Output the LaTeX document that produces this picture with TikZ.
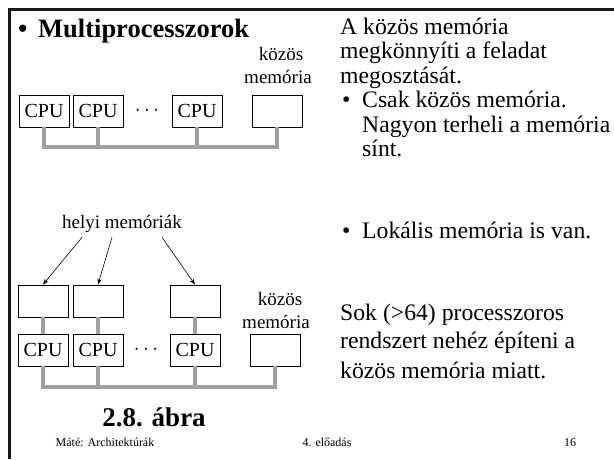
\documentclass[tikz,border=0pt]{standalone}
\usepackage{fontspec}
\setmainfont{Liberation Serif}
\usepackage{xcolor}
\usetikzlibrary{arrows.meta}
\definecolor{busgray}{HTML}{A0A0A0}
\newcommand{\fsz}[1]{\fontsize{#1}{#1}\selectfont}

\begin{document}
\begin{tikzpicture}[x=1pt,y=-1pt,
    box/.style={draw, line width=0.8pt, minimum width=50pt, minimum height=32pt,
                inner sep=0pt, font=\fsz{20}},
    bus/.style={draw=busgray, line width=4pt},
    txt/.style={anchor=base west, inner sep=0pt, font=\fsz{23.7}},
    lbl/.style={anchor=base, inner sep=0pt, font=\fsz{19}},
    foot/.style={anchor=base, inner sep=0pt, font=\fsz{12}},
    arr/.style={-{Stealth[length=6pt,width=4.5pt]}, line width=0.6pt}]
  \useasboundingbox (0,0) rectangle (614,459);
  % frame
  \draw[line width=2.5pt, black!90] (9.5,459) -- (9.5,9.5) -- (614,9.5);
  % title
  \node[txt, font=\fsz{26.5}\bfseries] (tbul) at (18,37) {•};
  \node[txt, font=\fsz{26.5}\bfseries] (title) at (38,37) {Multiprocesszorok};

  % upper diagram: common memory only
  \node[box] (tc1) at (44,111) {CPU};
  \node[box] (tc2) at (98,111) {CPU};
  \node[font=\fsz{20}] (tdots) at (147,111) {$\cdots$};
  \node[box] (tc3) at (197,111) {CPU};
  \node[box] (tm) at (277,111) {};
  \node[lbl] (tml1) at (281,60) {közös};
  \node[lbl] (tml2) at (278,83) {memória};
  \coordinate (tbus) at (0,147);
  \draw[bus] (tc1.south) |- (tbus -| tm.south) -- (tm.south);
  \foreach \n in {tc2,tc3}
    \draw[bus] (\n.south) -- (\n.south |- tbus);

  % lower diagram: local memories too
  \node[lbl] (hm) at (122,228) {helyi memóriák};
  \node[box] (lm1) at (43,301) {};
  \node[box] (lm2) at (98,301) {};
  \node[box] (lm3) at (195,301) {};
  \node[box] (bc1) at (43,350) {CPU};
  \node[box] (bc2) at (98,350) {CPU};
  \node[font=\fsz{20}] (bdots) at (146,350) {$\cdots$};
  \node[box] (bc3) at (195,350) {CPU};
  \node[box] (bm) at (275,350) {};
  \node[lbl] (bml1) at (280,305) {közös};
  \node[lbl] (bml2) at (276,328) {memória};
  \coordinate (bbus) at (0,387);
  \draw[bus] (bc1.south) |- (bbus -| bm.south) -- (bm.south);
  \foreach \n in {bc2,bc3}
    \draw[bus] (\n.south) -- (\n.south |- bbus);
  \foreach \i in {1,2,3}
    \draw[bus] (lm\i.south) -- (bc\i.north);
  \draw[arr] (hm.south) ++(-40,5) -- (lm1.north);
  \draw[arr] (hm.south) ++(-10,5) -- (lm2.north);
  \draw[arr] (hm.south) ++(40,5) -- (lm3.north);
  \node[anchor=base, inner sep=0pt, font=\fsz{27}\bfseries] (fig) at (154,426) {2.8. ábra};

  % right column
  \node[txt] (r1) at (340,34) {A közös memória};
  \node[txt] (r2) at (340,58.5) {megkönnyíti a feladat};
  \node[txt] (r3) at (340,83) {megosztását.};
  \node[txt] (b1) at (342,107.5) {•};
  \node[txt] (r4) at (362,107.5) {Csak közös memória.};
  \node[txt] (r5) at (362,132) {Nagyon terheli a memória};
  \node[txt] (r6) at (362,156.5) {sínt.};
  \node[txt] (b2) at (342,238) {•};
  \node[txt] (r7) at (362,238) {Lokális memória is van.};
  \node[txt] (s1) at (340,320) {Sok (>64) processzoros};
  \node[txt] (s2) at (340,348) {rendszert nehéz építeni a};
  \node[txt] (s3) at (340,378) {közös memória miatt.};

  % footer
  \node[foot] (f1) at (105,446) {Máté: Architektúrák};
  \node[foot] (f2) at (327,446) {4. előadás};
  \node[foot] (f3) at (570,446) {16};
\end{tikzpicture}
\end{document}
